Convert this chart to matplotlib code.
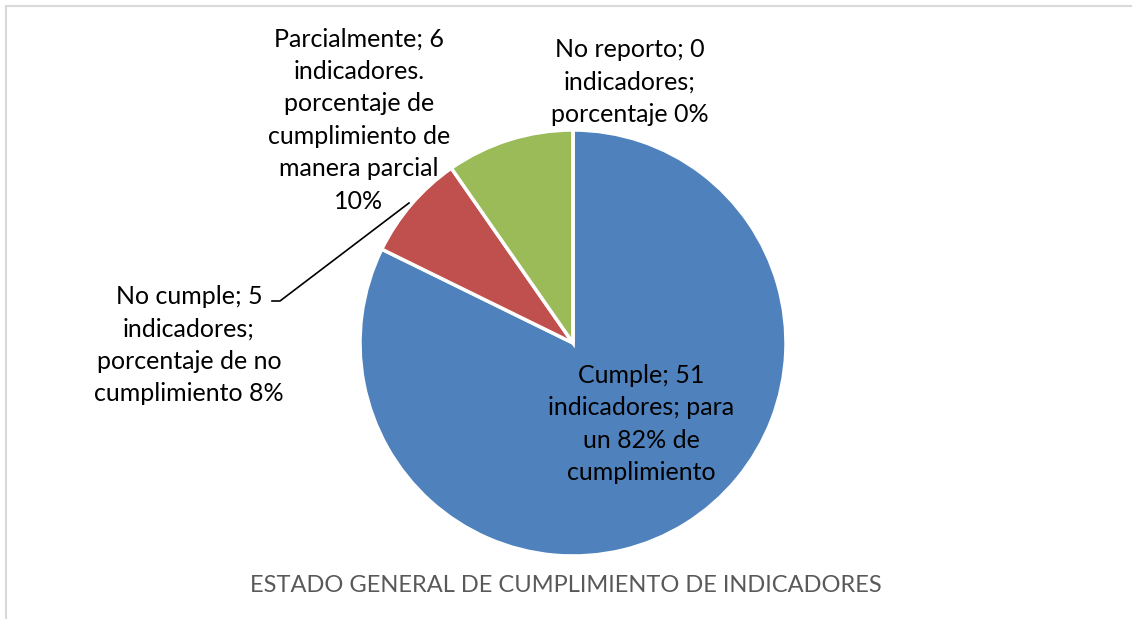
import matplotlib
matplotlib.use("Agg")
import matplotlib.pyplot as plt

# datos del grafico
categorias = ["Cumple", "No cumple", "Parcialmente", "No reporto"]
indicadores = [51, 5, 6, 0]
colores = ["#4F81BD", "#C0504D", "#9BBB59", "#8064A2"]
etiquetas = [
    "Cumple; 51\nindicadores; para\nun 82% de\ncumplimiento",
    "No cumple; 5\nindicadores;\nporcentaje de no\ncumplimiento 8%",
    "Parcialmente; 6\nindicadores.\nporcentaje de\ncumplimiento de\nmanera parcial\n10%",
    "No reporto; 0\nindicadores;\nporcentaje 0%",
]
titulo = "ESTADO GENERAL DE CUMPLIMIENTO DE INDICADORES"

W, H = 1132, 619
plt.rcParams['font.family'] = ['Lato', 'DejaVu Sans']

fig = plt.figure(figsize=(W / 100, H / 100), dpi=100)
ax = fig.add_axes([0, 0, 1, 1])

# pastel, desde las 12 en sentido horario
ax.pie(indicadores, colors=colores, startangle=90, counterclock=False,
       center=(573, H - 343), radius=213, frame=True,
       wedgeprops=dict(edgecolor='white', linewidth=2.5))
ax.set_xlim(0, W)
ax.set_ylim(0, H)
ax.set_aspect('equal')
ax.axis('off')

# posiciones de las etiquetas (pixeles de la imagen)
pos_etiquetas = [(641, 424), (189, 345), (359, 120), (630, 82)]
for texto, (x, y) in zip(etiquetas, pos_etiquetas):
    ax.text(x, H - y, texto, ha='center', va='center', fontsize=18,
            color='black', linespacing=1.5)

# linea guia de "No cumple"
ax.plot([272, 280, 409], [H - 301, H - 301, H - 203], color='black', lw=1.2)

ax.text(566, H - 586, titulo, ha='center', va='center', fontsize=17,
        color='#595959')

# borde gris del area del grafico
ax.plot([6, 6], [0, H - 6], color='#d9d9d9', lw=1.5)
ax.plot([6, W], [H - 6, H - 6], color='#d9d9d9', lw=1.5)

fig.savefig('out.png', dpi=100, facecolor='white')
